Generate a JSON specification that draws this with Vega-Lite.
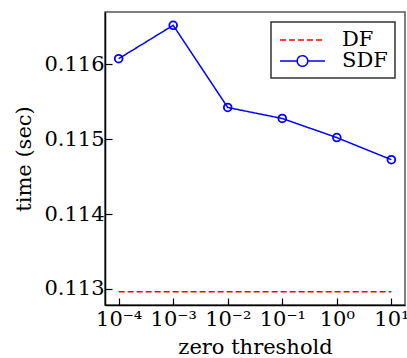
{
  "$schema": "https://vega.github.io/schema/vega-lite/v6.json",
  "width": 300,
  "height": 293,
  "autosize": "none",
  "padding": {"left": 105, "top": 12, "right": 2, "bottom": 53},
  "background": "white",
  "config": {
    "font": "DejaVu Serif",
    "view": {"stroke": "#555", "strokeWidth": 1.5},
    "axis": {
      "domainColor": "black",
      "domainWidth": 1.5,
      "tickColor": "black",
      "tickWidth": 1.2,
      "tickSize": -7,
      "grid": false,
      "labelFont": "DejaVu Serif",
      "labelFontSize": 21,
      "labelColor": "black",
      "titleFont": "DejaVu Serif",
      "titleFontSize": 21,
      "titleFontWeight": "normal",
      "titleColor": "black"
    }
  },
  "data": {
    "values": [
      {"x": 0.0001, "y": 0.116077, "series": "SDF"},
      {"x": 0.001, "y": 0.116523, "series": "SDF"},
      {"x": 0.01, "y": 0.115425, "series": "SDF"},
      {"x": 0.1, "y": 0.115278, "series": "SDF"},
      {"x": 1, "y": 0.115023, "series": "SDF"},
      {"x": 10, "y": 0.114728, "series": "SDF"},
      {"x": 0.0001, "y": 0.112964, "series": "DF"},
      {"x": 0.001, "y": 0.112964, "series": "DF"},
      {"x": 0.01, "y": 0.112964, "series": "DF"},
      {"x": 0.1, "y": 0.112964, "series": "DF"},
      {"x": 1, "y": 0.112964, "series": "DF"},
      {"x": 10, "y": 0.112964, "series": "DF"}
    ]
  },
  "encoding": {
    "x": {
      "field": "x",
      "type": "quantitative",
      "scale": {"type": "log", "domain": [0.0000562, 17.78], "nice": false},
      "axis": {
        "title": "zero threshold",
        "values": [0.0001, 0.001, 0.01, 0.1, 1, 10],
        "labelExpr": "datum.value < 0.0005 ? '10⁻⁴' : datum.value < 0.005 ? '10⁻³' : datum.value < 0.05 ? '10⁻²' : datum.value < 0.5 ? '10⁻¹' : datum.value < 5 ? '10⁰' : '10¹'",
        "labelPadding": 10,
        "titlePadding": 7,
        "labelFlush": false,
        "labelOverlap": false
      }
    },
    "y": {
      "field": "y",
      "type": "quantitative",
      "scale": {"domain": [0.112786, 0.116701], "nice": false, "zero": false},
      "axis": {
        "title": "time (sec)",
        "values": [0.113, 0.114, 0.115, 0.116],
        "format": ".3f",
        "labelPadding": 8,
        "titlePadding": 9,
        "labelFlush": false,
        "labelOverlap": false
      }
    },
    "color": {
      "field": "series",
      "type": "nominal",
      "scale": {"domain": ["DF", "SDF"], "range": ["#ff0000", "#0000ff"]},
      "legend": {
        "title": null,
        "orient": "top-right",
        "offset": 10,
        "labelFont": "DejaVu Serif",
        "labelFontSize": 21,
        "labelColor": "black",
        "fillColor": "white",
        "strokeColor": "#333",
        "padding": 7,
        "rowPadding": 0,
        "symbolSize": 400,
        "symbolOffset": 13.5,
        "symbolStrokeWidth": 1.5,
        "labelOffset": 28.5,
        "encode": {
          "legend": {"update": {"strokeWidth": {"value": 1.5}}},
          "symbols": {
            "update": {
              "shape": {"signal": "datum.value == 'DF' ? 'M-2.25,0H2.25' : 'M-2.25,0H-0.53M0.53,0H2.25M-0.53,0A0.53,0.53 0 1 1 0.53,0A0.53,0.53 0 1 1 -0.53,0'"},
              "strokeDash": {"signal": "datum.value == 'DF' ? [6, 3] : [1, 0]"},
              "fill": {"value": "transparent"},
              "strokeWidth": {"value": 1.5}
            }
          }
        }
      }
    }
  },
  "layer": [
    {
      "mark": {"type": "line", "strokeWidth": 1.5},
      "encoding": {
        "strokeDash": {
          "field": "series",
          "type": "nominal",
          "scale": {"domain": ["DF", "SDF"], "range": [[6, 3], [1, 0]]},
          "legend": null
        }
      }
    },
    {
      "transform": [{"filter": "datum.series == 'SDF'"}],
      "mark": {"type": "point", "shape": "circle", "filled": false, "size": 60, "strokeWidth": 1.8, "opacity": 1}
    }
  ]
}
